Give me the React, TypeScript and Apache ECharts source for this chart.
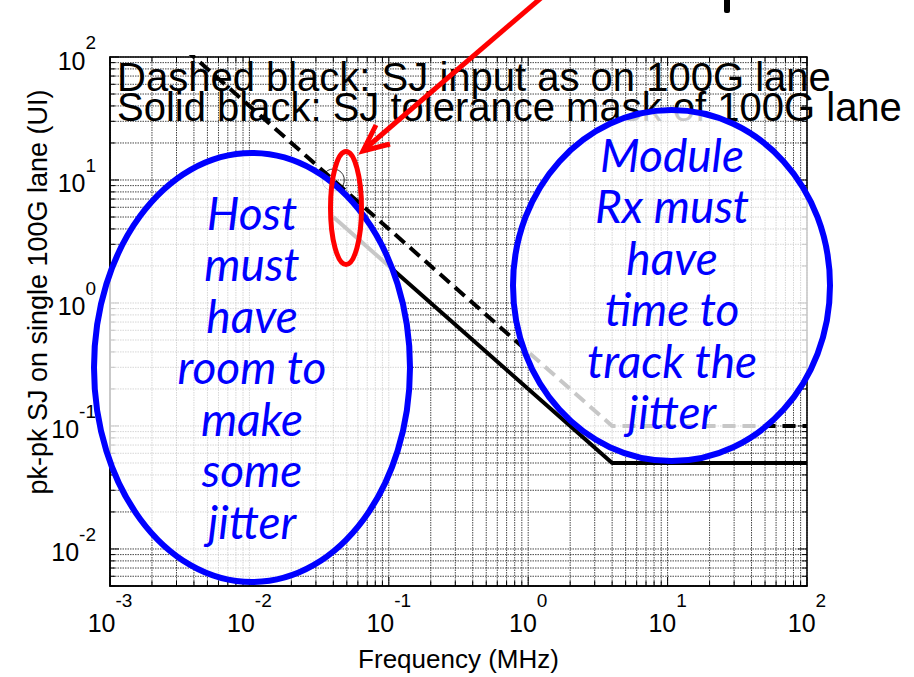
import React, { useEffect, useRef } from "react";
import * as echarts from "echarts";

// ---- axis ranges ----
const X_MIN = 0.001;
const X_MAX = 100;
const Y_MIN = 0.005;
const Y_MAX = 100;

// ---- series data (frequency in MHz, SJ in UI) ----
const DASHED_FREQ = [0.001, 4, 100];
const DASHED_SJ = [400, 0.1, 0.1];
const SOLID_FREQ = [0.04, 4, 100];
const SOLID_SJ = [5, 0.05, 0.05];
const MARKER_FREQ = [0.04];
const MARKER_SJ = [10];

// ---- grid decades / multipliers ----
const X_DECADES = [0.001, 0.01, 0.1, 1, 10, 100];
const Y_DECADES = [0.001, 0.01, 0.1, 1, 10, 100];
const GRID_MULTIPLIERS = [1, 2, 3, 4, 5, 6, 7, 8, 9];

// ---- texts ----
const LEGEND_LINES = [
  "Dashed black: SJ input as on 100G lane",
  "Solid black: SJ tolerance mask of 100G lane",
];
const HOST_LINES = ["Host", "must", "have", "room to", "make", "some", "jitter"];
const MODULE_LINES = ["Module", "Rx must", "have", "time to", "track the", "jitter"];
const X_NAME = "Frequency (MHz)";
const Y_NAME = "pk-pk SJ on single 100G lane (UI)";

const FONT = '"Liberation Sans", Arial, sans-serif';
const BLUE_FONT = 'Lato, "Open Sans", sans-serif';

function round6(v: number) {
  return parseFloat(v.toPrecision(6));
}

function buildGrid() {
  const out: number[][] = [];
  X_DECADES.forEach((d) => {
    GRID_MULTIPLIERS.forEach((k) => {
      const v = round6(k * d);
      if (v >= X_MIN && v <= X_MAX) out.push([v, Y_MIN, 0, k === 1 ? 1 : 0]);
    });
  });
  Y_DECADES.forEach((d) => {
    GRID_MULTIPLIERS.forEach((k) => {
      const v = round6(k * d);
      if (v >= Y_MIN && v <= Y_MAX) out.push([X_MIN, v, 1, k === 1 ? 1 : 0]);
    });
  });
  return out;
}

function powLabel(value: number) {
  const l = Math.log10(value);
  const e = Math.round(l);
  if (Math.abs(l - e) > 1e-6) return "";
  return "{b|10}{e|" + e + "}";
}

const RICH_X = {
  b: { fontSize: 25, fontFamily: FONT, color: "#000", lineHeight: 44, verticalAlign: "bottom" },
  e: { fontSize: 19, fontFamily: FONT, color: "#000", verticalAlign: "top" },
};
const RICH_Y = {
  b: { fontSize: 25, fontFamily: FONT, color: "#000", lineHeight: 40, verticalAlign: "bottom" },
  e: { fontSize: 19, fontFamily: FONT, color: "#000", verticalAlign: "top" },
};

export default function App() {
  const ref = useRef<HTMLDivElement>(null);

  useEffect(() => {
    if (!ref.current) return;
    const chart = echarts.init(ref.current, undefined, { renderer: "svg" });

    const gridData = buildGrid();
    const dashed = DASHED_FREQ.map((f, i) => [f, DASHED_SJ[i]]);
    const solid = SOLID_FREQ.map((f, i) => [f, SOLID_SJ[i]]);
    const marker = MARKER_FREQ.map((f, i) => [f, MARKER_SJ[i]]);

    const option: any = {
      animation: false,
      backgroundColor: "#fff",
      grid: {
        left: 110,
        top: 57,
        right: 107,
        bottom: 87,
        show: true,
        borderColor: "#000",
        borderWidth: 1.5,
        backgroundColor: "transparent",
      },
      xAxis: {
        type: "log",
        logBase: 10,
        min: X_MIN,
        max: X_MAX,
        name: X_NAME,
        nameLocation: "middle",
        nameGap: 60,
        nameTextStyle: { fontSize: 26, fontFamily: FONT, color: "#000" },
        splitLine: { show: false },
        axisTick: { show: false },
        axisLine: { show: true, lineStyle: { color: "#000", width: 1.5 } },
        axisLabel: {
          formatter: powLabel,
          margin: 5,
          showMinLabel: true,
          showMaxLabel: true,
          rich: RICH_X,
        },
      },
      yAxis: {
        type: "log",
        logBase: 10,
        min: Y_MIN,
        max: Y_MAX,
        splitLine: { show: false },
        axisTick: { show: false },
        axisLine: { show: true, lineStyle: { color: "#000", width: 1.5 } },
        axisLabel: {
          formatter: powLabel,
          margin: 14,
          showMinLabel: true,
          showMaxLabel: true,
          padding: [0, 0, 8, 0],
          rich: RICH_Y,
        },
      },
      series: [
        {
          type: "custom",
          name: "grid",
          silent: true,
          z: 1,
          clip: false,
          encode: { x: 0, y: 1 },
          data: gridData,
          renderItem: (_params: any, api: any) => {
            const orient = api.value(2);
            const major = api.value(3);
            const tl = major ? 9 : 5;
            let p1: number[];
            let p2: number[];
            const children: any[] = [];
            if (orient === 0) {
              const x = api.value(0);
              p1 = api.coord([x, Y_MIN]);
              p2 = api.coord([x, Y_MAX]);
              children.push(
                { type: "line", shape: { x1: p1[0], y1: p1[1], x2: p1[0], y2: p1[1] - tl }, style: { stroke: "#000", lineWidth: 1 } },
                { type: "line", shape: { x1: p2[0], y1: p2[1], x2: p2[0], y2: p2[1] + tl }, style: { stroke: "#000", lineWidth: 1 } }
              );
            } else {
              const y = api.value(1);
              p1 = api.coord([X_MIN, y]);
              p2 = api.coord([X_MAX, y]);
              children.push(
                { type: "line", shape: { x1: p1[0], y1: p1[1], x2: p1[0] + tl, y2: p1[1] }, style: { stroke: "#000", lineWidth: 1 } },
                { type: "line", shape: { x1: p2[0], y1: p2[1], x2: p2[0] - tl, y2: p2[1] }, style: { stroke: "#000", lineWidth: 1 } }
              );
            }
            children.unshift({
              type: "line",
              shape: { x1: p1[0], y1: p1[1], x2: p2[0], y2: p2[1] },
              style: { stroke: "rgba(0,0,0,0.72)", lineWidth: 1, lineDash: [1.5, 1] },
            });
            return { type: "group", children };
          },
        },
        {
          type: "line",
          name: "Solid",
          data: solid,
          z: 3,
          symbol: "none",
          lineStyle: { color: "#000", width: 4 },
        },
        {
          type: "line",
          name: "Dashed",
          data: dashed,
          z: 3,
          symbol: "none",
          lineStyle: { color: "#000", width: 4, type: [13, 7] },
        },
        {
          type: "scatter",
          name: "Marker",
          data: marker,
          z: 4,
          symbol: "circle",
          symbolSize: 22,
          itemStyle: { color: "transparent", borderColor: "#000", borderWidth: 1 },
        },
      ],
      graphic: [
        {
          type: "text",
          x: 117,
          y: 92,
          z: 5,
          style: {
            text: LEGEND_LINES.join("\n"),
            fontSize: 40,
            lineHeight: 30,
            fontFamily: FONT,
            fill: "#000",
            textVerticalAlign: "middle",
          },
        },
        {
          type: "text",
          x: 38,
          y: 292,
          rotation: Math.PI / 2,
          z: 5,
          style: { text: Y_NAME, fontSize: 27, fontFamily: FONT, fill: "#000", textAlign: "center", textVerticalAlign: "middle" },
        },
        {
          type: "ellipse",
          z: 10,
          shape: { cx: 252, cy: 367.5, rx: 158, ry: 214.5 },
          style: { fill: "rgba(255,255,255,0.78)", stroke: "#0000ff", lineWidth: 6 },
        },
        {
          type: "ellipse",
          z: 10,
          shape: { cx: 671.5, cy: 285.5, rx: 158.5, ry: 175.5 },
          style: { fill: "rgba(255,255,255,0.78)", stroke: "#0000ff", lineWidth: 6 },
        },
        {
          type: "text",
          x: 252,
          y: 366.5,
          z: 11,
          style: {
            text: HOST_LINES.join("\n"),
            fontSize: 46,
            fontStyle: "italic",
            fontFamily: BLUE_FONT,
            fill: "#0000ff",
            lineHeight: 51.5,
            textAlign: "center",
            textVerticalAlign: "middle",
          },
        },
        {
          type: "text",
          x: 672,
          y: 283,
          z: 11,
          style: {
            text: MODULE_LINES.join("\n"),
            fontSize: 46,
            fontStyle: "italic",
            fontFamily: BLUE_FONT,
            fill: "#0000ff",
            lineHeight: 51.5,
            textAlign: "center",
            textVerticalAlign: "middle",
          },
        },
        {
          type: "ellipse",
          z: 12,
          shape: { cx: 346, cy: 208, rx: 15.5, ry: 56.5 },
          style: { fill: "none", stroke: "#ff0000", lineWidth: 5 },
        },
        {
          type: "line",
          z: 12,
          shape: { x1: 541, y1: -2, x2: 366, y2: 148 },
          style: { stroke: "#ff0000", lineWidth: 5 },
        },
        {
          type: "polyline",
          z: 12,
          shape: { points: [[376, 125], [363, 151], [390, 144]] },
          style: { stroke: "#ff0000", lineWidth: 5, fill: "none", lineJoin: "miter" },
        },
        {
          type: "rect",
          z: 12,
          shape: { x: 724, y: -3, width: 6, height: 16, r: 2 },
          style: { fill: "#000" },
        },
      ],
    };

    chart.setOption(option);
    return () => chart.dispose();
  }, []);

  return (
    <div
      ref={ref}
      style={{ position: "fixed", left: 0, top: 0, width: 914, height: 677, background: "#fff" }}
    />
  );
}
